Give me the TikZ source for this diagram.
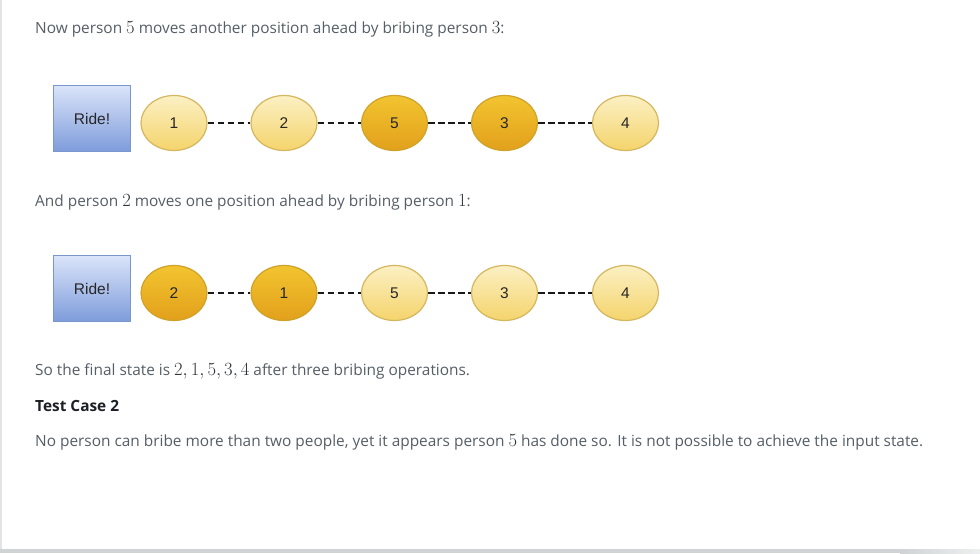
\RequirePackage{fix-cm}
\documentclass[tikz,border=0pt]{standalone}
\usepackage{fontspec}
\setmainfont{Open Sans}
\newfontfamily\helv{Liberation Sans}
\usetikzlibrary{shapes.geometric}
\definecolor{txt}{HTML}{555E67}
\definecolor{mathc}{HTML}{2E3338}
\definecolor{head}{HTML}{1C1F24}
\definecolor{bluetop}{HTML}{DAE4F9}
\definecolor{bluebot}{HTML}{7E9CDB}
\definecolor{blueline}{HTML}{7A96CC}
\definecolor{ltop}{HTML}{FCF0C4}
\definecolor{lbot}{HTML}{F4D46C}
\definecolor{lline}{HTML}{D4B75E}
\definecolor{dtop}{HTML}{F2C430}
\definecolor{dbot}{HTML}{E2A01B}
\definecolor{dline}{HTML}{CFA22A}
\definecolor{strip}{HTML}{E1E4E4}
\definecolor{shadow}{HTML}{CFD3D4}
\newcommand{\mnum}[1]{{\color{mathc}\fontsize{18.6}{18.6}\selectfont$#1$}}
\tikzset{
  para/.style={anchor=base west, inner sep=0pt, text=txt, font=\fontsize{15.4}{18}\selectfont},
  ridebox/.style={draw=blueline, line width=1.2pt, top color=bluetop, bottom color=bluebot,
    minimum width=77pt, minimum height=66pt, inner sep=0pt, font=\helv\fontsize{15.5}{17}\selectfont,
    text=black!85},
  person/.style={ellipse, line width=1.2pt, minimum width=66pt, minimum height=55pt, inner sep=0pt,
    font=\helv\fontsize{15.5}{17}\selectfont, text=black!85},
  light/.style={person, draw=lline, top color=ltop, bottom color=lbot},
  dark/.style={person, draw=dline, top color=dtop, bottom color=dbot},
  link/.style={draw=black!90, line width=2pt, dash pattern=on 6.5pt off 3.5pt}
}
\begin{document}
\begin{tikzpicture}[x=1pt,y=-1pt]
\useasboundingbox (0,0) rectangle (980,554);
\fill[white] (0,0) rectangle (980,554);
\fill[strip] (0,0) rectangle (2,549);
\fill[shadow] (0,549) rectangle (900,553);
\shade[left color=shadow, right color=shadow!35] (900,549) rectangle (980,553);

\node[para] (t1) at (35,34) {Now person \mnum{5} moves another position ahead by bribing person \mnum{3}:};

\node[ridebox] (r1) at (92,118.5) {Ride!};
\node[light] (a1) at (174,123) {1};
\node[light] (a2) at (284,123) {2};
\node[dark]  (a5) at (394.5,123) {5};
\node[dark]  (a3) at (504.5,123) {3};
\node[light] (a4) at (625.5,123) {4};
\draw[link] (a1.east) -- (a2.west);
\draw[link] (a2.east) -- (a5.west);
\draw[link] (a5.east) -- (a3.west);
\draw[link] (a3.east) -- (a4.west);

\node[para] (t2) at (35,206) {And person \mnum{2} moves one position ahead by bribing person \mnum{1}:};

\node[ridebox] (r2) at (92,288.5) {Ride!};
\node[dark]  (b2) at (174,293) {2};
\node[dark]  (b1) at (284,293) {1};
\node[light] (b5) at (394.5,293) {5};
\node[light] (b3) at (504.5,293) {3};
\node[light] (b4) at (625.5,293) {4};
\draw[link] (b2.east) -- (b1.west);
\draw[link] (b1.east) -- (b5.west);
\draw[link] (b5.east) -- (b3.west);
\draw[link] (b3.east) -- (b4.west);

\node[para] (t3) at (35,375) {So the final state is \mnum{2,1,5,3,4} after three bribing operations.};
\node[para, text=head, font=\bfseries\fontsize{15.4}{18}\selectfont] (t4) at (35,411) {Test Case 2};
\node[para] (t5) at (35,446) {No person can bribe more than two people, yet it appears person \mnum{5} has done so. It is not possible to achieve the input state.};
\end{tikzpicture}
\end{document}
